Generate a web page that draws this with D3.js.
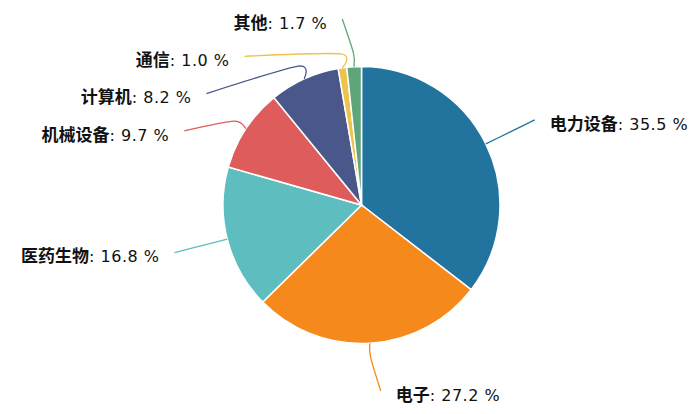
<!DOCTYPE html>
<html>
<head>
<meta charset="utf-8">
<script src="https://cdn.jsdelivr.net/npm/d3@7"></script>
<style>
    body { margin: 0; background: #fff; }
</style>
</head>
<body>
<div id="chart"></div>
<script>
// industry share of holdings, clockwise from 12 o'clock
const categories = ["电力设备", "电子", "医药生物", "机械设备", "计算机", "通信", "其他"];
const shares     = [35.5, 27.2, 16.8, 9.7, 8.2, 1.0, 1.7];
const colors     = ["#22749f", "#f6891b", "#5ebdbf", "#df5c5c", "#4a578b", "#ecc34c", "#5ea67a"];

const width  = 700;
const height = 414;
const cx = 361.5, cy = 205;
const radius = 138.5;

const lineLen   = 14;   // radial part of the leader line
const labelR    = 193;  // where the leader lines end
const labelGap  = 37.3; // min vertical distance between labels on a side
const viewTop   = 19;
const viewBottom = 391;

const data = categories.map((name, i) => ({name: name, value: shares[i], color: colors[i]}));

const svg = d3.select("#chart")
    .append("svg")
    .attr("width", width)
    .attr("height", height);

const g = svg.append("g")
    .attr("transform", "translate(" + cx + "," + cy + ")");

const pie = d3.pie()
    .sort(null)
    .value(d => d.value);

const arc = d3.arc()
    .innerRadius(0)
    .outerRadius(radius);

const arcs = pie(data);

g.selectAll("path.slice")
    .data(arcs)
    .enter()
    .append("path")
    .attr("class", "slice")
    .attr("d", arc)
    .attr("fill", d => d.data.color)
    .attr("stroke", "#fff")
    .attr("stroke-width", 1.5);

// label layout, roughly the way echarts does it
let labels = arcs.map(d => {
    let a  = (d.startAngle + d.endAngle) / 2;
    let ux = Math.sin(a), uy = -Math.cos(a);
    return {
        d: d,
        side: ux < 0 ? -1 : 1,
        edge:  [ux * radius, uy * radius],
        elbow: [ux * (radius + lineLen), uy * (radius + lineLen)],
        x: ux * labelR,
        y: uy * labelR,
        shifted: false
    };
});

function shiftSide(list) {
    list.sort((a, b) => a.y - b.y);
    let top = viewTop - cy, bottom = viewBottom - cy;
    let orig = list.map(l => l.y);
    for (let i = 0; i < list.length; i++) {
        let minY = i === 0 ? top : list[i - 1].y + labelGap;
        if (list[i].y < minY) list[i].y = minY;
    }
    for (let i = list.length - 1; i >= 0; i--) {
        let maxY = i === list.length - 1 ? bottom : list[i + 1].y - labelGap;
        if (list[i].y > maxY) list[i].y = maxY;
    }
    list.forEach((l, i) => { l.shifted = Math.abs(l.y - orig[i]) > 0.01; });

    // put shifted labels of each half back on an ellipse
    [list.filter(l => l.y < 0), list.filter(l => l.y >= 0)].forEach(semi => {
        if (!semi.some(l => l.shifted)) return;
        let rB = d3.max(semi, l => Math.abs(l.y)) * 1.005;
        semi.forEach(l => {
            let k = 1 - (l.y * l.y) / (rB * rB);
            l.x = l.side * labelR * Math.sqrt(Math.max(0, k));
        });
    });
}

shiftSide(labels.filter(l => l.side < 0));
shiftSide(labels.filter(l => l.side > 0));

const leader = d3.line().curve(d3.curveCardinal.tension(0.2));

g.selectAll("path.leader")
    .data(labels)
    .enter()
    .append("path")
    .attr("class", "leader")
    .attr("d", l => leader([l.edge, l.elbow, [l.x, l.y]]))
    .attr("fill", "none")
    .attr("stroke", l => l.d.data.color)
    .attr("stroke-width", 1.3);

let text = g.selectAll("text.label")
    .data(labels)
    .enter()
    .append("text")
    .attr("class", "label")
    .attr("x", l => l.x + l.side * 15)
    .attr("y", l => l.y + 4)
    .attr("dy", "0.35em")
    .attr("text-anchor", l => l.side < 0 ? "end" : "start")
    .style("font-family", "'DejaVu Sans', 'Noto Sans CJK SC', sans-serif")
    .style("font-size", "16px")
    .style("fill", "#111");

text.append("tspan")
    .style("font-weight", "bold")
    .style("font-size", "17px")
    .style("font-family", "'Noto Sans CJK SC', sans-serif")
    .text(l => l.d.data.name);

text.append("tspan")
    .style("letter-spacing", "0.5px")
    .text(l => ": " + l.d.data.value.toFixed(1) + " %");
</script>
</body>
</html>
